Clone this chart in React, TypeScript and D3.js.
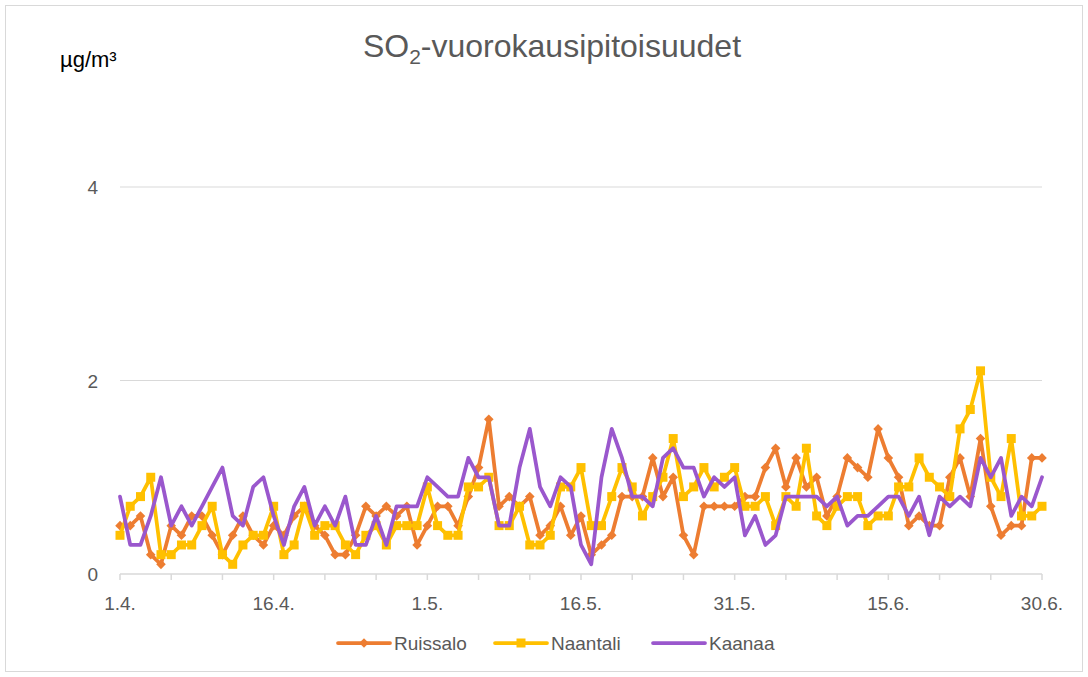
import React, { useRef, useEffect } from 'react';
import * as d3 from 'd3';

// daily SO2 means, 1.4. – 30.6. (91 days)
const ruissalo = [
  0.5, 0.5, 0.6, 0.2, 0.1, 0.5, 0.4, 0.6, 0.6, 0.4, 0.2, 0.4, 0.6, 0.4, 0.3,
  0.5, 0.4, 0.6, 0.7, 0.5, 0.4, 0.2, 0.2, 0.4, 0.7, 0.6, 0.7, 0.6, 0.7, 0.3,
  0.5, 0.7, 0.7, 0.5, 0.8, 1.1, 1.6, 0.7, 0.8, 0.7, 0.8, 0.4, 0.5, 0.7, 0.4,
  0.6, 0.2, 0.3, 0.4, 0.8, 0.8, 0.8, 1.2, 0.8, 1.0, 0.4, 0.2, 0.7, 0.7, 0.7,
  0.7, 0.8, 0.8, 1.1, 1.3, 0.9, 1.2, 0.9, 1.0, 0.6, 0.8, 1.2, 1.1, 1.0, 1.5,
  1.2, 1.0, 0.5, 0.6, 0.5, 0.5, 1.0, 1.2, 0.8, 1.4, 0.7, 0.4, 0.5, 0.5, 1.2,
  1.2,
];
const naantali = [
  0.4, 0.7, 0.8, 1.0, 0.2, 0.2, 0.3, 0.3, 0.5, 0.7, 0.2, 0.1, 0.3, 0.4, 0.4,
  0.7, 0.2, 0.3, 0.7, 0.4, 0.5, 0.5, 0.3, 0.2, 0.4, 0.5, 0.3, 0.5, 0.5, 0.5,
  0.9, 0.5, 0.4, 0.4, 0.9, 0.9, 1.0, 0.5, 0.5, 0.7, 0.3, 0.3, 0.4, 0.9, 0.9,
  1.1, 0.5, 0.5, 0.8, 1.1, 0.9, 0.6, 0.8, 1.0, 1.4, 0.8, 0.9, 1.1, 0.9, 1.0,
  1.1, 0.7, 0.7, 0.8, 0.5, 0.8, 0.7, 1.3, 0.6, 0.5, 0.7, 0.8, 0.8, 0.5, 0.6,
  0.6, 0.9, 0.9, 1.2, 1.0, 0.9, 0.8, 1.5, 1.7, 2.1, 1.0, 0.8, 1.4, 0.6, 0.6,
  0.7,
];
const kaanaa = [
  0.8, 0.3, 0.3, 0.6, 1.0, 0.5, 0.7, 0.5, 0.7, 0.9, 1.1, 0.6, 0.5, 0.9, 1.0,
  0.6, 0.3, 0.7, 0.9, 0.5, 0.7, 0.5, 0.8, 0.3, 0.3, 0.6, 0.3, 0.7, 0.7, 0.7,
  1.0, 0.9, 0.8, 0.8, 1.2, 1.0, 1.0, 0.5, 0.5, 1.1, 1.5, 0.9, 0.7, 1.0, 0.9,
  0.3, 0.1, 1.0, 1.5, 1.2, 0.8, 0.8, 0.7, 1.2, 1.3, 1.1, 1.1, 0.8, 1.0, 0.9,
  1.0, 0.4, 0.6, 0.3, 0.4, 0.8, 0.8, 0.8, 0.8, 0.7, 0.8, 0.5, 0.6, 0.6, 0.7,
  0.8, 0.8, 0.6, 0.8, 0.4, 0.8, 0.7, 0.8, 0.7, 1.2, 1.0, 1.2, 0.6, 0.8, 0.7,
  1.0,
];

const yTicks = [0, 2, 4];
const seriesNames = ['Ruissalo', 'Naantali', 'Kaanaa'];
const seriesColors = ['#ED7D31', '#FFC000', '#9A57CD'];
const seriesMarkers = ['diamond', 'square', 'none'];

const days = d3.utcDay.range(new Date(Date.UTC(2021, 3, 1)), new Date(Date.UTC(2021, 6, 1)));
const labelDays = days.filter((_, i) => i % 15 === 0);
const tickDays = days.filter((_, i) => i % 5 === 0);
const fmtDay = (d: Date) => `${d.getUTCDate()}.${d.getUTCMonth() + 1}.`;

const FONT = '"Liberation Sans", Arial, sans-serif';
const W = 1088;
const H = 677;

function drawMarker(g: any, kind: string, color: string) {
  if (kind === 'diamond') {
    g.append('path').attr('d', 'M0,-4.8L4.8,0L0,4.8L-4.8,0Z').attr('fill', color);
  } else if (kind === 'square') {
    g.append('path').attr('d', d3.symbol(d3.symbolSquare, 81)()).attr('fill', color);
  }
}

export default function App() {
  const svgRef = useRef<SVGSVGElement>(null);

  useEffect(() => {
    const svg = d3.select(svgRef.current);
    svg.selectAll('*').remove();

    const x = d3.scaleUtc().domain([days[0], days[days.length - 1]]).range([120, 1042]);
    const y = d3.scaleLinear().domain([0, 4]).range([574, 187]);

    svg.append('rect')
      .attr('x', 0).attr('y', 0).attr('width', W).attr('height', H)
      .attr('fill', '#fff');
    svg.append('rect')
      .attr('x', 5.5).attr('y', 5.5).attr('width', 1077).attr('height', 666)
      .attr('fill', 'none').attr('stroke', '#d9d9d9').attr('stroke-width', 1);

    // title + unit
    const title = svg.append('text')
      .attr('x', 552).attr('y', 57)
      .attr('text-anchor', 'middle')
      .attr('fill', '#595959')
      .style('font-family', FONT)
      .style('font-size', '32px');
    title.append('tspan').text('SO');
    title.append('tspan').attr('dy', 7).style('font-size', '21px').text('2');
    title.append('tspan').attr('dy', -7).text('-vuorokausipitoisuudet');

    svg.append('text')
      .attr('x', 60).attr('y', 67)
      .attr('fill', '#000')
      .style('font-family', FONT)
      .style('font-size', '22px')
      .text('µg/m³');

    // gridlines
    svg.append('g')
      .selectAll('line')
      .data(yTicks.filter(t => t > 0))
      .join('line')
      .attr('x1', 120).attr('x2', 1042)
      .attr('y1', d => y(d)).attr('y2', d => y(d))
      .attr('stroke', '#d9d9d9').attr('stroke-width', 1);

    svg.append('g')
      .selectAll('text')
      .data(yTicks)
      .join('text')
      .attr('x', 98).attr('y', d => y(d) + 7)
      .attr('text-anchor', 'end')
      .attr('fill', '#595959')
      .style('font-family', FONT)
      .style('font-size', '19px')
      .text(d => d);

    // x axis
    svg.append('line')
      .attr('x1', 120).attr('x2', 1042)
      .attr('y1', y(0)).attr('y2', y(0))
      .attr('stroke', '#d9d9d9').attr('stroke-width', 1.5);
    svg.append('g')
      .selectAll('line')
      .data(tickDays)
      .join('line')
      .attr('x1', d => x(d)).attr('x2', d => x(d))
      .attr('y1', y(0)).attr('y2', y(0) + 6)
      .attr('stroke', '#d9d9d9').attr('stroke-width', 1.5);
    svg.append('g')
      .selectAll('text')
      .data(labelDays)
      .join('text')
      .attr('x', d => x(d)).attr('y', 610)
      .attr('text-anchor', 'middle')
      .attr('fill', '#595959')
      .style('font-family', FONT)
      .style('font-size', '19px')
      .text(d => fmtDay(d));

    // series
    const allSeries = [ruissalo, naantali, kaanaa];
    const line = d3.line<number>().x((_, i) => x(days[i])).y(d => y(d));
    allSeries.forEach((vals, si) => {
      svg.append('path')
        .datum(vals)
        .attr('d', line)
        .attr('fill', 'none')
        .attr('stroke', seriesColors[si])
        .attr('stroke-width', 3.75)
        .attr('stroke-linejoin', 'round')
        .attr('stroke-linecap', 'round');
      if (seriesMarkers[si] !== 'none') {
        svg.append('g')
          .selectAll('g')
          .data(vals)
          .join('g')
          .attr('transform', (d, i) => `translate(${x(days[i])},${y(d)})`)
          .each(function () {
            drawMarker(d3.select(this), seriesMarkers[si], seriesColors[si]);
          });
      }
    });

    // legend
    const legendX = [338, 495, 653];
    seriesNames.forEach((name, si) => {
      const g = svg.append('g').attr('transform', `translate(${legendX[si]},643)`);
      g.append('line')
        .attr('x1', 0).attr('x2', 52).attr('y1', 0).attr('y2', 0)
        .attr('stroke', seriesColors[si]).attr('stroke-width', 3.75)
        .attr('stroke-linecap', 'round');
      const m = g.append('g').attr('transform', 'translate(26,0)');
      drawMarker(m, seriesMarkers[si], seriesColors[si]);
      g.append('text')
        .attr('x', 56).attr('y', 7)
        .attr('fill', '#595959')
        .style('font-family', FONT)
        .style('font-size', '19px')
        .text(name);
    });
  }, []);

  return (
    <div style={{ position: 'absolute', left: 0, top: 0 }}>
      <svg ref={svgRef} width={W} height={H} style={{ display: 'block' }} />
    </div>
  );
}
